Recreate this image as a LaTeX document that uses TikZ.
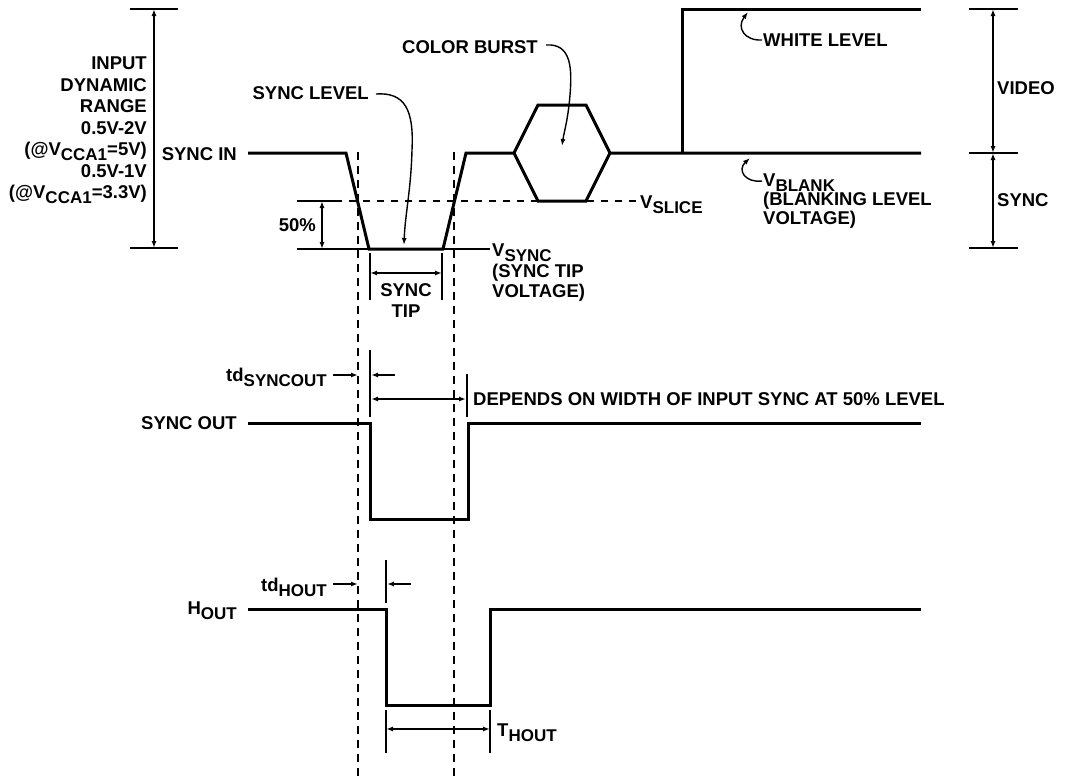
\documentclass[tikz,border=0pt]{standalone}
\usepackage{fontspec}
\setmainfont{Liberation Sans}
\usetikzlibrary{arrows.meta}
\newcommand\lsub[1]{\raisebox{-5pt}[0pt][0pt]{\fontsize{17}{17}\selectfont #1}}
\begin{document}
\begin{tikzpicture}[x=1pt,y=-1pt,
  sig/.style={line width=3pt, line join=miter},
  thn/.style={line width=1.4pt},
  dshv/.style={line width=2.4pt, dash pattern=on 8pt off 6pt},
  dshh/.style={line width=1.7pt, dash pattern=on 7pt off 7pt},
  dimarr/.style={thn, {Latex[length=7pt,width=5pt]}-{Latex[length=7pt,width=5pt]}},
  onearr/.style={thn, -{Latex[length=7pt,width=5pt]}},
  txt/.style={font=\fontsize{18.5}{21.5}\selectfont\bfseries, inner sep=0pt}]
\useasboundingbox (0,0) rectangle (1066,777);

% ---------- dashed guide lines
\coordinate (g1t) at (358,152); \coordinate (g1b) at (358,777);
\coordinate (g2t) at (454,152); \coordinate (g2b) at (454,777);
\draw[dshv] (g1t) -- (g1b);
\draw[dshv] (g2t) -- (g2b);

% ---------- SYNC IN waveform
\coordinate (s0) at (248,153); \coordinate (s1) at (346,153);
\coordinate (s2) at (369,249); \coordinate (s3) at (443,249);
\coordinate (s4) at (466,153);
\coordinate (h1) at (514,153); \coordinate (h2) at (538,105);
\coordinate (h3) at (586,105); \coordinate (h4) at (610,153);
\coordinate (h5) at (586,201); \coordinate (h6) at (538,201);
\coordinate (v1) at (682,153); \coordinate (v2) at (682,9);
\coordinate (w1) at (921,9);   \coordinate (b1) at (921,153);
\draw[sig] (s0) -- (s1) -- (s2) -- (s3) -- (s4) -- (h1) -- (h2) -- (h3) -- (h4) -- (v1) -- (b1);
\draw[sig] (h1) -- (h6) -- (h5) -- (h4);
\draw[sig] (v1) -- (v2) -- (w1);

% ---------- slice / 50% reference lines
\coordinate (sl0) at (297,201); \coordinate (sl1) at (335,201); \coordinate (sl2) at (637,201);
\coordinate (tp0) at (297,249); \coordinate (tp1) at (368,249);
\coordinate (tp2) at (443,249); \coordinate (tp3) at (490,249);
\draw[thn] (sl0) -- (sl1);
\draw[dshh] (sl1) -- (sl2);
\draw[thn] (tp0) -- (tp1);
\draw[thn] (tp2) -- (tp3);
\coordinate (p50a) at (322,201); \coordinate (p50b) at (322,249);
\draw[dimarr] (p50a) -- (p50b);
\node[txt, anchor=east] (l50) at (316,225) {50\%};

% ---------- input dynamic range (left)
\coordinate (ra) at (130,9);  \coordinate (rb) at (178,9);
\coordinate (rc) at (130,248); \coordinate (rd) at (178,248);
\coordinate (re) at (154,9);  \coordinate (rf) at (154,248);
\draw[thn] (ra) -- (rb);
\draw[thn] (rc) -- (rd);
\draw[dimarr] (re) -- (rf);
\node[txt, anchor=north east, align=right] (range) at (147,57)
  {INPUT\\DYNAMIC\\RANGE\\0.5V-2V\\(@V\lsub{CCA1}=5V)\\0.5V-1V\\(@V\lsub{CCA1}=3.3V)};
\node[txt, anchor=base east] (syncin) at (237,160) {SYNC IN};

% ---------- sync level label
\node[txt, anchor=east] (synclev) at (369,93) {SYNC LEVEL};
\coordinate (slt) at (404,245);
\draw[onearr] (synclev.east) ++(7,1) .. controls (405,92) and (414,110) .. (412,150)
   .. controls (411,190) and (405,215) .. (slt);

% ---------- sync tip
\coordinate (st1) at (370,253); \coordinate (st2) at (370,300);
\coordinate (st3) at (442,253); \coordinate (st4) at (442,300);
\coordinate (st5) at (370,273); \coordinate (st6) at (442,273);
\draw[thn] (st1) -- (st2);
\draw[thn] (st3) -- (st4);
\draw[dimarr] (st5) -- (st6);
\node[txt, anchor=north, align=center, font=\fontsize{18.5}{21}\selectfont\bfseries] (synctip) at (406,283) {SYNC\\TIP};
\node[txt, anchor=north west, align=left, font=\fontsize{18.5}{20.5}\selectfont\bfseries] (vsync) at (492,244)
  {V\lsub{SYNC}\\(SYNC TIP\\VOLTAGE)};

% ---------- color burst
\node[txt, anchor=east] (cb) at (538,47) {COLOR BURST};
\coordinate (cbt) at (562,146);
\draw[onearr] (546,45) .. controls (572,43) and (572,70) .. (570,95)
   .. controls (568,120) and (564,132) .. (cbt);
\node[txt, anchor=base west] (vslice) at (640,208) {V\lsub{SLICE}};

% ---------- white level / blank
\node[txt, anchor=west] (white) at (763,40) {WHITE LEVEL};
\coordinate (wht) at (748,12);
\draw[onearr] (white.west) ++(-1,0) .. controls (745,41) and (736,28) .. (wht);
\node[txt, anchor=north west, align=left, font=\fontsize{18.5}{19}\selectfont\bfseries] (vblank) at (763,174)
  {V\lsub{BLANK}\\(BLANKING LEVEL\\VOLTAGE)};
\coordinate (vbt) at (750,158);
\draw[onearr] (762,181) .. controls (745,183) and (737,170) .. (vbt);

% ---------- video / sync (right)
\coordinate (ka) at (969,9);   \coordinate (kb) at (1018,9);
\coordinate (kc) at (969,153); \coordinate (kd) at (1018,153);
\coordinate (ke) at (969,248); \coordinate (kf) at (1018,248);
\coordinate (kg) at (993,9); \coordinate (kh) at (993,153); \coordinate (ki) at (993,248);
\draw[thn] (ka) -- (kb);
\draw[thn] (kc) -- (kd);
\draw[thn] (ke) -- (kf);
\draw[dimarr] (kg) -- (kh);
\draw[dimarr] (kh) -- (ki);
\node[txt, anchor=west] (video) at (997,88) {VIDEO};
\node[txt, anchor=west] (syncr) at (997,200) {SYNC};

% ---------- SYNC OUT
\coordinate (o0) at (248,423); \coordinate (o1) at (370,423);
\coordinate (o2) at (370,519); \coordinate (o3) at (468,519);
\coordinate (o4) at (468,423); \coordinate (o5) at (921,423);
\draw[sig] (o0) -- (o1) -- (o2) -- (o3) -- (o4) -- (o5);
\node[txt, anchor=east] (syncout) at (237,423) {SYNC OUT};
\coordinate (ot1) at (370,350); \coordinate (ot2) at (370,417);
\coordinate (ot3) at (467,374); \coordinate (ot4) at (467,417);
\draw[thn] (ot1) -- (ot2);
\draw[thn] (ot3) -- (ot4);
\coordinate (oa1) at (333,375); \coordinate (oa2) at (358,375);
\coordinate (oa3) at (395,375); \coordinate (oa4) at (371,375);
\draw[onearr] (oa1) -- (oa2);
\draw[onearr] (oa3) -- (oa4);
\node[txt, anchor=base east] (tdso) at (327,381) {td\lsub{SYNCOUT}};
\coordinate (ob1) at (371,399); \coordinate (ob2) at (466,399);
\draw[dimarr] (ob1) -- (ob2);
\node[txt, anchor=west] (depends) at (473,399) {DEPENDS ON WIDTH OF INPUT SYNC AT 50\% LEVEL};

% ---------- H OUT
\coordinate (q0) at (248,609); \coordinate (q1) at (386,609);
\coordinate (q2) at (386,705); \coordinate (q3) at (490,705);
\coordinate (q4) at (490,609); \coordinate (q5) at (921,609);
\draw[sig] (q0) -- (q1) -- (q2) -- (q3) -- (q4) -- (q5);
\node[txt, anchor=base east] (hout) at (237,614) {H\lsub{OUT}};
\coordinate (qt1) at (386,560); \coordinate (qt2) at (386,603);
\draw[thn] (qt1) -- (qt2);
\coordinate (qa1) at (333,584); \coordinate (qa2) at (358,584);
\coordinate (qa3) at (411,584); \coordinate (qa4) at (387,584);
\draw[onearr] (qa1) -- (qa2);
\draw[onearr] (qa3) -- (qa4);
\node[txt, anchor=base east] (tdh) at (327,591) {td\lsub{HOUT}};
\coordinate (qb1) at (386,710); \coordinate (qb2) at (386,753);
\coordinate (qb3) at (490,710); \coordinate (qb4) at (490,753);
\draw[thn] (qb1) -- (qb2);
\draw[thn] (qb3) -- (qb4);
\coordinate (qc1) at (386,729); \coordinate (qc2) at (490,729);
\draw[dimarr] (qc1) -- (qc2);
\node[txt, anchor=base west] (thout) at (497,736) {T\lsub{HOUT}};
\end{tikzpicture}
\end{document}
